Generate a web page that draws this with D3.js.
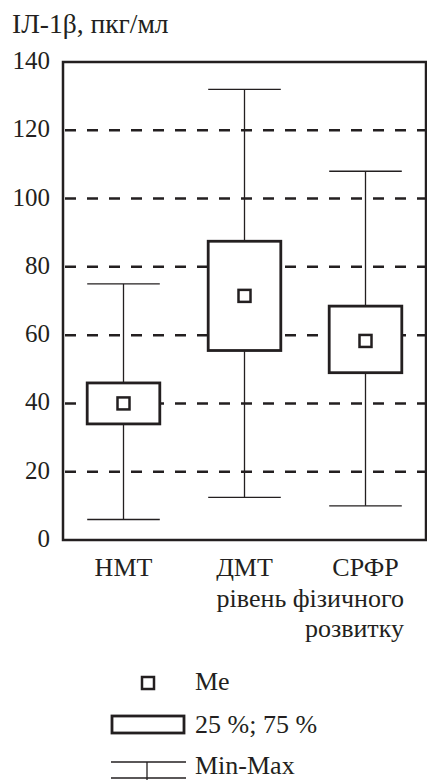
<!DOCTYPE html>
<html>
<head>
<meta charset="utf-8">
<script src="https://cdn.jsdelivr.net/npm/d3@7"></script>
<style>
  body { margin: 0; background: #fff; }
</style>
</head>
<body>
<svg id="chart"></svg>
<script>
var viewWidth = 427;
var viewHeight = 780;

// data
var categories = ["НМТ", "ДМТ", "СРФР"];
var minVals = [6, 12.5, 10];
var q1Vals = [34, 55.5, 49];
var medVals = [40, 71.5, 58.3];
var q3Vals = [46, 87.5, 68.5];
var maxVals = [75, 132, 108];
var yTicks = [0, 20, 40, 60, 80, 100, 120, 140];
var gridTicks = [20, 40, 60, 80, 100, 120];

var ink = "#231f20";
var fontName = "Liberation Serif";
var margin = {top: 62, right: 1, bottom: 240, left: 63};

var svg = d3.select("#chart")
    .attr("width", viewWidth)
    .attr("height", viewHeight);

var x = d3.scaleBand()
  .domain(categories)
  .range([margin.left, viewWidth - margin.right])
  .paddingInner(0.4)
  .paddingOuter(0.2);
var y = d3.scaleLinear()
  .domain([0, 140])
  .range([viewHeight - margin.bottom, margin.top]);

var boxes = categories.map(function(c, i) {
  return {cat: c, min: minVals[i], q1: q1Vals[i], med: medVals[i], q3: q3Vals[i], max: maxVals[i]};
});

function label(sel, size) {
  return sel.attr("font-family", fontName)
    .attr("font-size", size)
    .attr("fill", ink);
}

// title
label(svg.append("text"), 27.5)
    .attr("x", 12)
    .attr("y", 33)
    .text("ІЛ-1β, пкг/мл");

// dashed grid
svg.append("g").selectAll("line")
    .data(gridTicks)
  .enter().append("line")
    .attr("x1", margin.left)
    .attr("x2", viewWidth - margin.right)
    .attr("y1", function(d) { return y(d); })
    .attr("y2", function(d) { return y(d); })
    .attr("stroke", ink)
    .attr("stroke-width", 2.5)
    .attr("stroke-dasharray", "11,11")
    .attr("stroke-dashoffset", -2);

// y axis labels
var yAxis = d3.axisLeft(y).tickValues(yTicks).tickSize(0).tickPadding(13);
var yg = svg.append("g")
    .attr("transform", "translate(" + margin.left + ",0)")
    .call(yAxis);
yg.select(".domain").remove();
label(yg.selectAll("text"), 25).attr("dy", "0.26em");

// x axis labels
var xAxis = d3.axisBottom(x).tickSize(0).tickPadding(18);
var xg = svg.append("g")
    .attr("transform", "translate(0," + y(0) + ")")
    .call(xAxis);
xg.select(".domain").remove();
label(xg.selectAll("text"), 26);

// whiskers
var g = svg.append("g");
var cx = function(d) { return x(d.cat) + x.bandwidth() / 2; };

g.selectAll(".whisker")
    .data(boxes)
  .enter().append("line")
    .attr("class", "whisker")
    .attr("x1", cx).attr("x2", cx)
    .attr("y1", function(d) { return y(d.min); })
    .attr("y2", function(d) { return y(d.max); })
    .attr("stroke", ink)
    .attr("stroke-width", 1.3);

["min", "max"].forEach(function(k) {
  g.selectAll(".cap-" + k)
      .data(boxes)
    .enter().append("line")
      .attr("class", "cap-" + k)
      .attr("x1", function(d) { return x(d.cat); })
      .attr("x2", function(d) { return x(d.cat) + x.bandwidth(); })
      .attr("y1", function(d) { return y(d[k]); })
      .attr("y2", function(d) { return y(d[k]); })
      .attr("stroke", ink)
      .attr("stroke-width", 1.3);
});

// boxes
g.selectAll(".box")
    .data(boxes)
  .enter().append("rect")
    .attr("class", "box")
    .attr("x", function(d) { return x(d.cat); })
    .attr("width", x.bandwidth())
    .attr("y", function(d) { return y(d.q3); })
    .attr("height", function(d) { return y(d.q1) - y(d.q3); })
    .attr("fill", "#fff")
    .attr("stroke", ink)
    .attr("stroke-width", 2.8);

// medians
var ms = 12;
g.selectAll(".med")
    .data(boxes)
  .enter().append("rect")
    .attr("class", "med")
    .attr("x", function(d) { return cx(d) - ms / 2; })
    .attr("y", function(d) { return y(d.med) - ms / 2; })
    .attr("width", ms)
    .attr("height", ms)
    .attr("fill", "#fff")
    .attr("stroke", ink)
    .attr("stroke-width", 2.5);

// frame
svg.append("rect")
    .attr("x", margin.left)
    .attr("y", margin.top)
    .attr("width", viewWidth - margin.right - margin.left)
    .attr("height", y(0) - margin.top)
    .attr("fill", "none")
    .attr("stroke", ink)
    .attr("stroke-width", 2.5);

// axis title
var at = label(svg.append("text"), 26)
    .attr("text-anchor", "end");
at.append("tspan").attr("x", 404).attr("y", 607).text("рівень фізичного");
at.append("tspan").attr("x", 404).attr("y", 637).text("розвитку");

// legend
var lg = svg.append("g");
lg.append("rect")
    .attr("x", 142).attr("y", 677).attr("width", 12).attr("height", 12)
    .attr("fill", "#fff").attr("stroke", ink).attr("stroke-width", 2.5);
label(lg.append("text"), 26).attr("x", 195).attr("y", 690).text("Me");

lg.append("rect")
    .attr("x", 112).attr("y", 716).attr("width", 72).attr("height", 17)
    .attr("fill", "#fff").attr("stroke", ink).attr("stroke-width", 2.8);
label(lg.append("text"), 26).attr("x", 195).attr("y", 733).text("25 %; 75 %");

lg.append("line").attr("x1", 111).attr("x2", 186).attr("y1", 762).attr("y2", 762)
    .attr("stroke", ink).attr("stroke-width", 1.3);
lg.append("line").attr("x1", 111).attr("x2", 186).attr("y1", 778).attr("y2", 778)
    .attr("stroke", ink).attr("stroke-width", 1.3);
lg.append("line").attr("x1", 147).attr("x2", 147).attr("y1", 762).attr("y2", 780)
    .attr("stroke", ink).attr("stroke-width", 1.3);
label(lg.append("text"), 26).attr("x", 195).attr("y", 774).text("Min-Max");
</script>
</body>
</html>
